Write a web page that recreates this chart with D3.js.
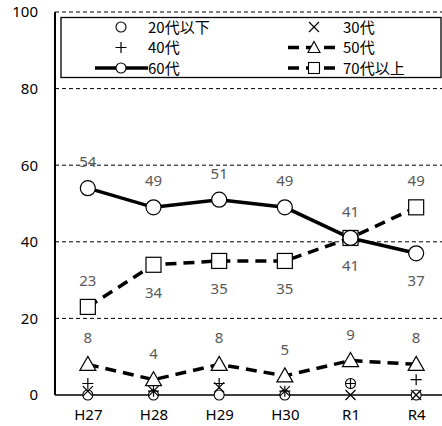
<!DOCTYPE html>
<html>
<head>
<meta charset="utf-8">
<script src="https://cdn.jsdelivr.net/npm/d3@7/dist/d3.min.js"></script>
<style>
  body { margin: 0; background: #fff; }
  svg { display: block; font-family: "Noto Sans CJK JP", "Noto Sans", sans-serif; }
</style>
</head>
<body>
<div id="chart"></div>
<script>
var categories = ["H27", "H28", "H29", "H30", "R1", "R4"];
var yTicks = [0, 20, 40, 60, 80, 100];

var age20 = [0, 0, 0, 0, 3, 0];
var age30 = [1, 1, 2, 1, 0, 0];
var age40 = [3, 1, 3, 1, 3, 4];
var age50 = [8, 4, 8, 5, 9, 8];
var age60 = [54, 49, 51, 49, 41, 37];
var age70 = [23, 34, 35, 35, 41, 49];

// label placement per point: 1 above, -1 below
var labelPos60 = [1, 1, 1, 1, 1, -1];
var labelPos70 = [1, -1, -1, -1, -1, 1];

var width = 442, height = 426;
var svg = d3.select("#chart").append("svg")
    .attr("width", width)
    .attr("height", height);

var x = d3.scalePoint().domain(categories).range([55, 449]).padding(0.5);
var y = d3.scaleLinear().domain([0, 100]).range([395, 12]);

// gridlines
svg.append("g").selectAll("line")
    .data(yTicks.filter(function (d) { return d > 0; }))
    .enter().append("line")
    .attr("x1", 55).attr("x2", width)
    .attr("y1", function (d) { return y(d); })
    .attr("y2", function (d) { return y(d); })
    .attr("stroke", "#000")
    .attr("stroke-width", 1)
    .attr("stroke-dasharray", "4,3");

// axes
var yAxis = svg.append("g")
    .attr("transform", "translate(55,0)")
    .call(d3.axisLeft(y).tickValues(yTicks).tickSize(0).tickPadding(17));
yAxis.select(".domain").remove();
yAxis.selectAll("text").attr("font-size", 15).attr("fill", "#000")
    .attr("font-family", "'Noto Sans', sans-serif");

var xAxis = svg.append("g")
    .attr("transform", "translate(0," + y(0) + ")")
    .call(d3.axisBottom(x).tickSize(0).tickPadding(14));
xAxis.select(".domain").remove();
xAxis.selectAll("text").attr("font-size", 15).attr("fill", "#000")
    .attr("font-family", "'Noto Sans', sans-serif");

svg.append("line").attr("x1", 55).attr("x2", 55).attr("y1", y(100)).attr("y2", y(0))
    .attr("stroke", "#000").attr("stroke-width", 2);
svg.append("line").attr("x1", 55).attr("x2", width).attr("y1", y(0)).attr("y2", y(0))
    .attr("stroke", "#000").attr("stroke-width", 1.5);

var line = d3.line()
    .x(function (d, i) { return x(categories[i]); })
    .y(function (d) { return y(d); });

function drawLine(vals, dashed) {
    svg.append("path").datum(vals)
        .attr("d", line)
        .attr("fill", "none")
        .attr("stroke", "#000")
        .attr("stroke-width", 3.5)
        .attr("stroke-dasharray", dashed ? "11,7" : null);
}
drawLine(age50, true);
drawLine(age70, true);
drawLine(age60, false);

// marker shapes
function mark(g, type, cx, cy) {
    if (type === "circle") {
        g.append("circle").attr("cx", cx).attr("cy", cy).attr("r", 7.5)
            .attr("fill", "#fff").attr("stroke", "#000").attr("stroke-width", 1.2);
    } else if (type === "small") {
        g.append("circle").attr("cx", cx).attr("cy", cy).attr("r", 5)
            .attr("fill", "#fff").attr("stroke", "#000").attr("stroke-width", 1.1);
    } else if (type === "x") {
        g.append("path").attr("d", "M" + (cx - 5) + "," + (cy - 5) + "L" + (cx + 5) + "," + (cy + 5) +
            "M" + (cx + 5) + "," + (cy - 5) + "L" + (cx - 5) + "," + (cy + 5))
            .attr("stroke", "#000").attr("stroke-width", 1.2);
    } else if (type === "plus") {
        g.append("path").attr("d", "M" + (cx - 5.5) + "," + cy + "L" + (cx + 5.5) + "," + cy +
            "M" + cx + "," + (cy - 5.5) + "L" + cx + "," + (cy + 5.5))
            .attr("stroke", "#000").attr("stroke-width", 1.2);
    } else if (type === "tri") {
        g.append("path").attr("d", "M" + cx + "," + (cy - 8) + "L" + (cx + 8) + "," + (cy + 6) +
            "L" + (cx - 8) + "," + (cy + 6) + "Z")
            .attr("fill", "#fff").attr("stroke", "#000").attr("stroke-width", 1.2);
    } else if (type === "sq") {
        g.append("rect").attr("x", cx - 7.5).attr("y", cy - 7.5).attr("width", 15).attr("height", 15)
            .attr("fill", "#fff").attr("stroke", "#000").attr("stroke-width", 1.2);
    }
}

function drawMarks(vals, type) {
    var g = svg.append("g");
    vals.forEach(function (v, i) { mark(g, type, x(categories[i]), y(v)); });
}
drawMarks(age20, "small");
drawMarks(age30, "x");
drawMarks(age40, "plus");
drawMarks(age50, "tri");
drawMarks(age70, "sq");
drawMarks(age60, "circle");

// data labels
function drawLabels(vals, pos) {
    svg.append("g").selectAll("text")
        .data(vals)
        .enter().append("text")
        .attr("x", function (d, i) { return x(categories[i]); })
        .attr("y", function (d, i) { return y(d) + (pos[i] > 0 ? -21 : 33); })
        .attr("text-anchor", "middle")
        .attr("font-size", 15)
        .attr("font-family", "'Noto Sans', sans-serif")
        .attr("fill", "#595959")
        .text(function (d) { return d; });
}
drawLabels(age50, [1, 1, 1, 1, 1, 1]);
drawLabels(age60, labelPos60);
drawLabels(age70, labelPos70);

// legend
var legend = svg.append("g");
legend.append("rect").attr("x", 61).attr("y", 17.5).attr("width", 380).attr("height", 60)
    .attr("fill", "#fff").attr("stroke", "#000").attr("stroke-width", 1.3);

var legendItems = [
    { name: "20代以下", type: "small", line: null, col: 0, row: 0 },
    { name: "30代", type: "x", line: null, col: 1, row: 0 },
    { name: "40代", type: "plus", line: null, col: 0, row: 1 },
    { name: "50代", type: "tri", line: "dash", col: 1, row: 1 },
    { name: "60代", type: "circle", line: "solid", col: 0, row: 2 },
    { name: "70代以上", type: "sq", line: "dash", col: 1, row: 2 }
];
var colX = [121, 314];
legendItems.forEach(function (it) {
    var cx = colX[it.col], cy = 27 + it.row * 20.5;
    if (it.line) {
        legend.append("line").attr("x1", cx - 26).attr("x2", cx + 27).attr("y1", cy).attr("y2", cy)
            .attr("stroke", "#000").attr("stroke-width", 3.5)
            .attr("stroke-dasharray", it.line === "dash" ? "11,7" : null);
    }
    var t = it.type === "circle" ? "small" : it.type;
    if (it.type === "tri") {
        legend.append("path").attr("d", "M" + cx + "," + (cy - 6) + "L" + (cx + 6) + "," + (cy + 5) +
            "L" + (cx - 6) + "," + (cy + 5) + "Z")
            .attr("fill", "#fff").attr("stroke", "#000").attr("stroke-width", 1.1);
    } else if (it.type === "sq") {
        legend.append("rect").attr("x", cx - 5.5).attr("y", cy - 5.5).attr("width", 11).attr("height", 11)
            .attr("fill", "#fff").attr("stroke", "#000").attr("stroke-width", 1.1);
    } else {
        mark(legend, t, cx, cy);
    }
    legend.append("text").attr("x", cx + (it.col === 1 ? 29 : 27)).attr("y", cy + 5.5)
        .attr("font-size", 15).attr("fill", "#000")
        .text(it.name);
});
</script>
</body>
</html>
